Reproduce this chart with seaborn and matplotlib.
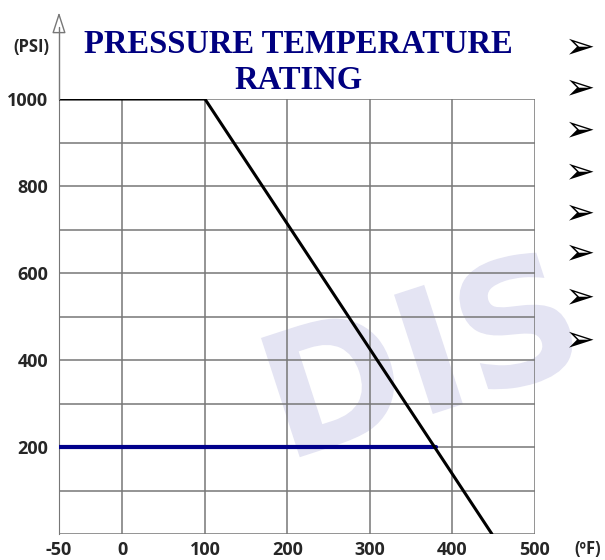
import numpy as np
import pandas as pd
import matplotlib.pyplot as plt
import matplotlib.transforms as mtransforms
from matplotlib.textpath import TextPath
from matplotlib.patches import PathPatch
from matplotlib.font_manager import FontProperties
import seaborn as sns

# rating curve (temperature in F, pressure in PSI)
rating_temp = [-50, 100, 448]
rating_psi = [1000, 1000, 0]

# limit line
limit_temp = [-50, 380]
limit_psi = [200, 200]

x_ticks = [-50, 0, 100, 200, 300, 400, 500]
y_ticks = [0, 100, 200, 300, 400, 500, 600, 700, 800, 900, 1000]
y_labels = [200, 400, 600, 800, 1000]


# the -50..0 column is drawn narrower than the others
def fwd(x):
    x = np.asarray(x, dtype=float)
    return np.where(x < 0, x * 77 / 50, x)


def inv(x):
    x = np.asarray(x, dtype=float)
    return np.where(x < 0, x * 50 / 77, x)


sns.set_style("white")
plt.rcParams["font.family"] = ["Open Sans", "DejaVu Sans"]

fig = plt.figure(figsize=(6.05, 5.6), dpi=100)
ax = fig.add_axes([0.0975, 0.0464, 0.7865, 0.7768])
ax.set_facecolor("none")

# watermark behind everything (pixel coords, y up)
wm = TextPath((0, 0), "DIS", size=172, prop=FontProperties(family="DejaVu Sans", weight="bold"))
wm_tr = mtransforms.Affine2D().scale(0.98, 1).rotate_deg(18).translate(285, 98)
fig.add_artist(PathPatch(wm, transform=wm_tr, fc="#e4e4f3", ec="none", zorder=0))

df_rating = pd.DataFrame({"temp": rating_temp, "psi": rating_psi})
df_limit = pd.DataFrame({"temp": limit_temp, "psi": limit_psi})
sns.lineplot(data=df_rating, x="temp", y="psi", ax=ax, color="black", lw=2.2, sort=False, zorder=5)
sns.lineplot(data=df_limit, x="temp", y="psi", ax=ax, color="#00008b", lw=3, sort=False, zorder=4)

ax.set_xscale("function", functions=(fwd, inv))
ax.set_xlim(-50, 500)
ax.set_ylim(0, 1000)
ax.set_xticks(x_ticks)
ax.set_yticks(y_ticks)
ax.set_xticklabels([str(t) for t in x_ticks])
ax.set_yticklabels([str(t) if t in y_labels else "" for t in y_ticks])
ax.minorticks_off()
ax.tick_params(length=0, labelsize=13, pad=5)
ax.tick_params(axis="y", pad=8)
for lab in ax.get_xticklabels() + ax.get_yticklabels():
    lab.set_fontweight("bold")
ax.grid(True, color="#777777", lw=1.1)
for side in ["top", "right", "bottom"]:
    ax.spines[side].set_visible(False)
ax.spines["left"].set_color("#777777")
ax.set_xlabel("")
ax.set_ylabel("")

# y axis arrow going up past the plot
x0 = 0.0975
fig.add_artist(plt.Line2D([x0, x0], [0.8232, 0.952], color="#777777", lw=1))
ax.annotate("", xy=(x0, 0.983), xytext=(x0, 0.95), xycoords="figure fraction",
            arrowprops=dict(arrowstyle="-|>,head_length=1.3,head_width=0.42",
                            fc="white", ec="#777777", lw=1))

fig.text(0.052, 0.916, "(PSI)", fontsize=12, fontweight="bold", ha="center", va="center")
fig.text(0.972, 0.019, "(ºF)", fontsize=12, fontweight="bold", ha="center", va="center")

fig.text(0.493, 0.889, "PRESSURE TEMPERATURE\nRATING", fontsize=23.5, fontweight="bold",
         family="Liberation Serif", color="#000080", ha="center", va="center", linespacing=1.22)

for yp in [47, 88, 130, 172, 213, 253, 297, 340]:
    fig.text(580 / 605, 1 - yp / 560, "\u27a2", fontsize=26, family="DejaVu Sans",
             color="black", ha="center", va="center")

fig.savefig("out.png", dpi=100)
